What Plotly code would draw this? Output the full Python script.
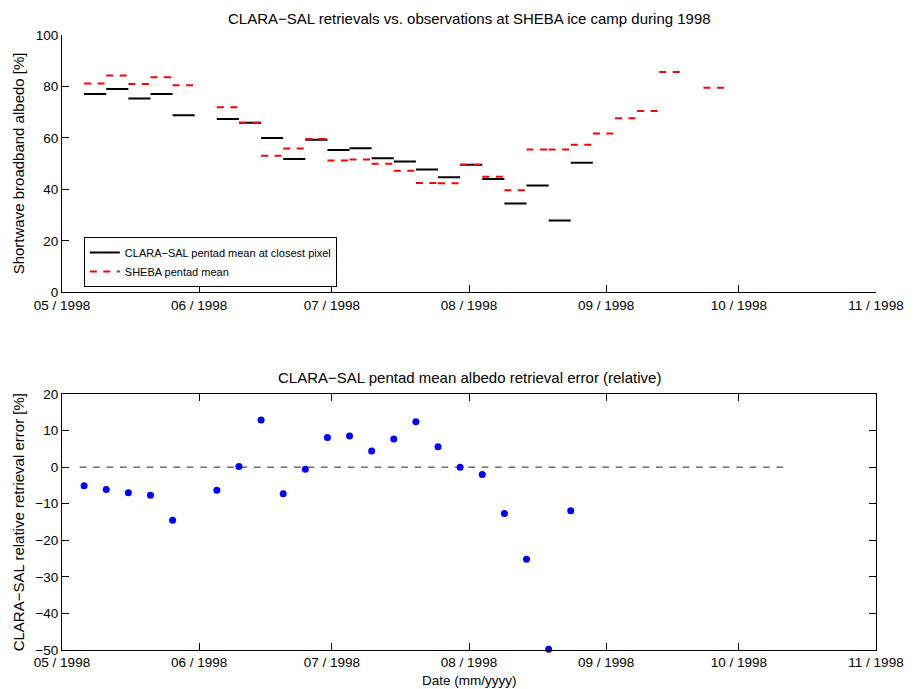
import plotly.graph_objects as go
import pandas as pd

# ---- data ----
pentad_start = pd.date_range("1998-05-06", periods=29, freq="5D")
pentad_days = 5

clara_pentad = [77.1, 79.0, 75.3, 77.1, 68.8, None, 67.4, 65.9, 60.0, 51.8,
                59.3, 55.3, 56.0, 52.1, 50.8, 47.7, 44.7, 49.6, 44.0, 34.5,
                41.5, 27.9, 50.4, None, None, None, None, None, None]
sheba_pentad = [81.2, 84.3, 81.0, 83.6, 80.5, None, 71.9, 65.9, 53.1, 55.9,
                59.6, 51.2, 51.6, 50.0, 47.2, 42.5, 42.4, 49.6, 44.9, 39.7,
                55.5, 55.5, 57.3, 61.7, 67.6, 70.5, 85.6, None, 79.5]
rel_error = [-5.1, -6.1, -7.0, -7.7, -14.5, None, -6.3, 0.2, 12.9, -7.3,
             -0.6, 8.1, 8.5, 4.4, 7.7, 12.4, 5.6, 0.0, -2.0, -12.7,
             -25.2, -49.8, -11.9]
zero_line_x = ["1998-05-05", "1998-10-12"]
zero_line_y = [0, 0]

month_ticks = pd.date_range("1998-05-01", "1998-11-01", freq="MS")


def segments(values):
    xs, ys = [], []
    for s, v in zip(pentad_start, values):
        if v is None:
            continue
        xs += [s, s + pd.Timedelta(days=pentad_days), None]
        ys += [v, v, None]
    return xs, ys


FONT = "Liberation Sans"
fig = go.Figure()

cx, cy = segments(clara_pentad)
sx, sy = segments(sheba_pentad)
fig.add_trace(go.Scatter(x=cx, y=cy, mode="lines", connectgaps=False,
                         line=dict(color="black", width=2),
                         name="CLARA\u2212SAL pentad mean at closest pixel",
                         xaxis="x", yaxis="y"))
fig.add_trace(go.Scatter(x=sx, y=sy, mode="lines", connectgaps=False,
                         line=dict(color="#ff0000", width=2, dash="7px,6.5px"),
                         name="SHEBA pentad mean", xaxis="x", yaxis="y"))

ex = [s for s, v in zip(pentad_start, rel_error) if v is not None]
ey = [v for v in rel_error if v is not None]
fig.add_trace(go.Scatter(x=zero_line_x, y=zero_line_y, mode="lines",
                         line=dict(color="#222222", width=1, dash="6.7px,6.7px"),
                         showlegend=False, xaxis="x2", yaxis="y2"))
fig.add_trace(go.Scatter(x=ex, y=ey, mode="markers", cliponaxis=False,
                         marker=dict(color="#0000ff", size=7, line=dict(width=0)),
                         showlegend=False, xaxis="x2", yaxis="y2"))

tickfont = dict(family=FONT, size=13.5, color="black")
xcommon = dict(type="date", range=["1998-05-01", "1998-11-01"],
               tickvals=list(month_ticks), tickformat="%m / %Y",
               ticks="inside", ticklen=7, tickcolor="black",
               showline=True, linecolor="black", linewidth=1,
               showgrid=False, zeroline=False, tickfont=tickfont)

fig.update_layout(
    width=916, height=689,
    margin=dict(l=62, r=34, t=35, b=39),
    paper_bgcolor="white", plot_bgcolor="white",
    font=dict(family=FONT, size=13, color="black"),
    xaxis=dict(**xcommon, anchor="y", mirror=False),
    yaxis=dict(domain=[0.5816, 1.0], range=[0, 100], tickvals=[0, 20, 40, 60, 80, 100],
               ticks="inside", ticklen=7, tickcolor="black",
               showline=True, linecolor="black", linewidth=1,
               showgrid=False, zeroline=False, tickfont=tickfont, anchor="x"),
    xaxis2=dict(**xcommon, anchor="y2", mirror="ticks"),
    yaxis2=dict(domain=[0.0, 0.4163], range=[-50, 20], tickvals=list(range(-50, 21, 10)),
                ticks="inside", ticklen=7, tickcolor="black",
                showline=True, linecolor="black", linewidth=1, mirror="ticks",
                showgrid=False, zeroline=False, tickfont=tickfont, anchor="x2"),
    legend=dict(x=0.0268, y=0.6715, xanchor="left", yanchor="top",
                bgcolor="white", bordercolor="black", borderwidth=1,
                font=dict(family=FONT, size=11, color="black"),
                tracegroupgap=0, itemwidth=30),
    showlegend=True,
)

ann = dict(xref="paper", yref="paper", showarrow=False)
tfont = dict(family=FONT, size=15, color="black")
fig.add_annotation(text="CLARA\u2212SAL retrievals vs. observations at SHEBA ice camp during 1998",
                   x=0.5, y=(650 - 18) / 615, xanchor="center", yanchor="middle", font=tfont, **ann)
fig.add_annotation(text="CLARA\u2212SAL pentad mean albedo retrieval error (relative)",
                   x=0.5, y=(650 - 377) / 615, xanchor="center", yanchor="middle", font=tfont, **ann)
fig.add_annotation(text="Date (mm/yyyy)",
                   x=0.5, y=(650 - 680) / 615, xanchor="center", yanchor="middle",
                   font=dict(family=FONT, size=13.5, color="black"), **ann)
fig.add_annotation(text="Shortwave broadband albedo [%]", textangle=-90,
                   x=(18 - 62) / 820, y=(650 - 163) / 615, xanchor="center", yanchor="middle",
                   font=tfont, **ann)
fig.add_annotation(text="CLARA\u2212SAL relative retrieval error [%]", textangle=-90,
                   x=(18 - 62) / 820, y=(650 - 522) / 615, xanchor="center", yanchor="middle",
                   font=tfont, **ann)

fig.write_html("out.html")
